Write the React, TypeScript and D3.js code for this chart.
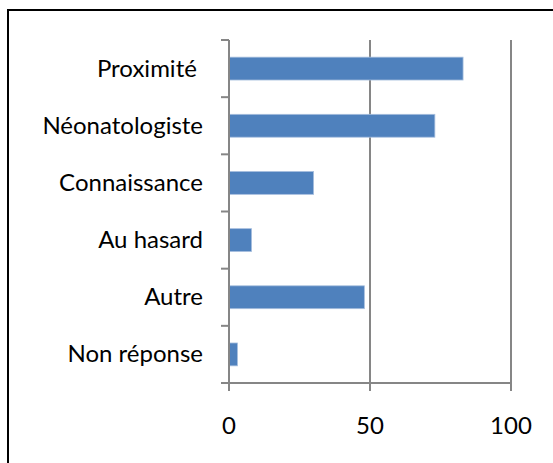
import * as d3 from "d3";
import { useEffect, useRef } from "react";

const categories = ["Proximité ", "Néonatologiste", "Connaissance", "Au hasard", "Autre", "Non réponse"];
const values = [83, 73, 30, 8, 48, 3];
const xTicks = [0, 50, 100];

export default function App() {
  const svgRef = useRef<SVGSVGElement>(null);

  const width = 553;
  const height = 463;
  const plot = { left: 229, right: 511, top: 40, bottom: 383 };

  useEffect(() => {
    const svg = d3.select(svgRef.current);
    svg.selectAll("*").remove();

    const x = d3.scaleLinear().domain([0, 100]).range([plot.left, plot.right]);
    const y = d3.scaleBand()
      .domain(categories)
      .range([plot.top, plot.bottom])
      .paddingInner(0.6)
      .paddingOuter(0.3);
    const step = (plot.bottom - plot.top) / categories.length;

    // outer border
    svg.append("rect")
      .attr("x", 8)
      .attr("y", 10)
      .attr("width", 700)
      .attr("height", 700)
      .attr("fill", "none")
      .attr("stroke", "black")
      .attr("stroke-width", 2);

    const grey = "#868686";

    // vertical gridlines
    svg.selectAll(".grid")
      .data(xTicks.slice(1))
      .enter()
      .append("line")
      .attr("x1", d => x(d))
      .attr("x2", d => x(d))
      .attr("y1", plot.top)
      .attr("y2", plot.bottom)
      .attr("stroke", grey)
      .attr("stroke-width", 2);

    // bars
    svg.selectAll(".bar")
      .data(categories)
      .enter()
      .append("rect")
      .attr("x", x(0))
      .attr("y", d => y(d)!)
      .attr("width", (d, i) => x(values[i]) - x(0))
      .attr("height", y.bandwidth())
      .attr("fill", "#4F81BD")
      .attr("stroke", "#A7BFDE")
      .attr("stroke-width", 0.8);

    // y axis line + ticks at category boundaries
    svg.append("line")
      .attr("x1", plot.left)
      .attr("x2", plot.left)
      .attr("y1", plot.top)
      .attr("y2", plot.bottom)
      .attr("stroke", grey)
      .attr("stroke-width", 2);

    svg.selectAll(".ytick")
      .data(d3.range(categories.length + 1))
      .enter()
      .append("line")
      .attr("x1", plot.left - 8)
      .attr("x2", plot.left)
      .attr("y1", d => plot.top + d * step)
      .attr("y2", d => plot.top + d * step)
      .attr("stroke", grey)
      .attr("stroke-width", 2);

    // x axis line + ticks
    svg.append("line")
      .attr("x1", plot.left - 8)
      .attr("x2", plot.right)
      .attr("y1", plot.bottom)
      .attr("y2", plot.bottom)
      .attr("stroke", grey)
      .attr("stroke-width", 2);

    svg.selectAll(".xtick")
      .data(xTicks)
      .enter()
      .append("line")
      .attr("x1", d => x(d))
      .attr("x2", d => x(d))
      .attr("y1", plot.bottom)
      .attr("y2", plot.bottom + 8)
      .attr("stroke", grey)
      .attr("stroke-width", 2);

    const font = "Lato, 'Open Sans', sans-serif";

    svg.selectAll(".xlabel")
      .data(xTicks)
      .enter()
      .append("text")
      .attr("x", d => x(d))
      .attr("y", 434)
      .attr("text-anchor", "middle")
      .attr("font-family", font)
      .attr("font-size", 24)
      .attr("fill", "black")
      .text(d => d);

    svg.selectAll(".ylabel")
      .data(categories)
      .enter()
      .append("text")
      .attr("x", 203)
      .attr("y", d => y(d)! + y.bandwidth() / 2 + 8)
      .attr("text-anchor", "end")
      .attr("font-family", font)
      .attr("font-size", 24)
      .attr("fill", "black")
      .style("white-space", "pre")
      .text(d => d);
  }, []);

  return (
    <svg
      ref={svgRef}
      width={width}
      height={height}
      style={{ position: "absolute", left: 0, top: 0, background: "white" }}
    />
  );
}
